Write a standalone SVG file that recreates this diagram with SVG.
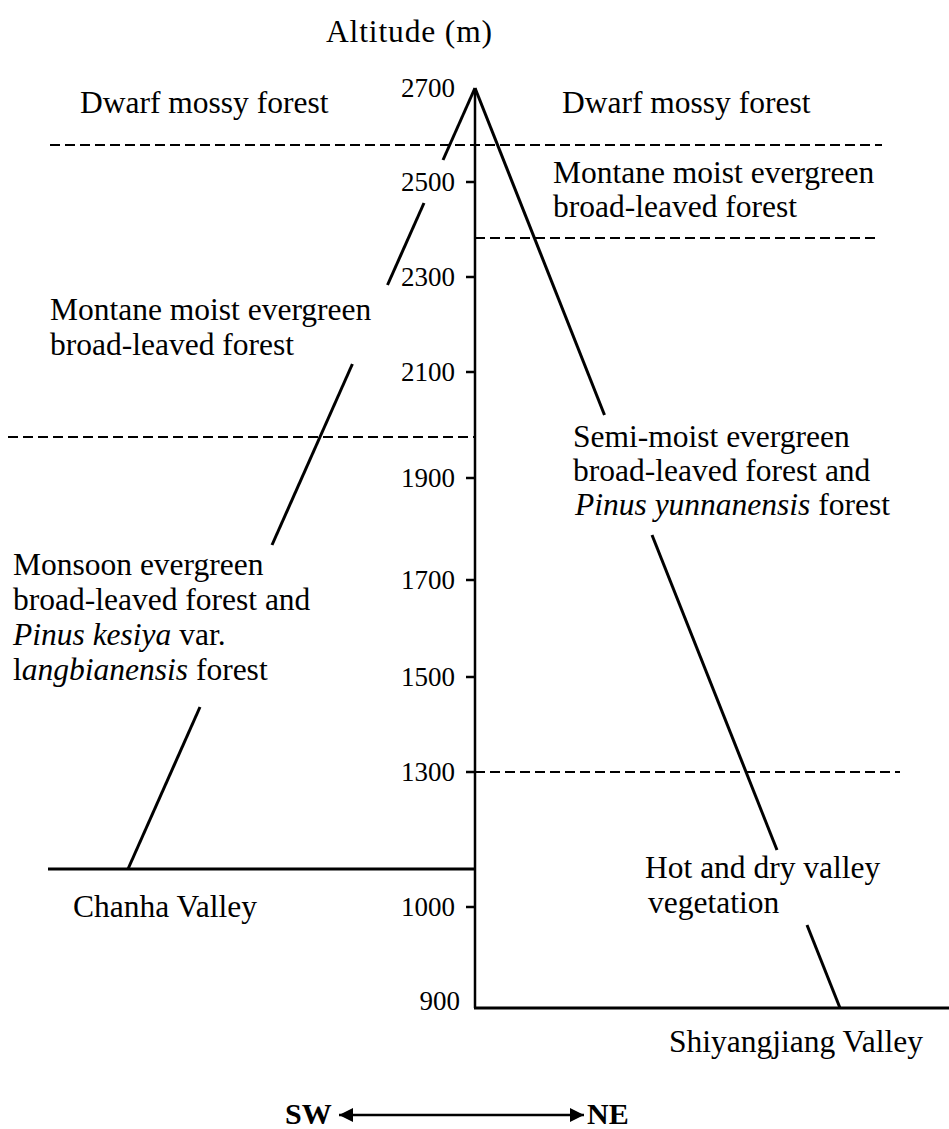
<svg xmlns="http://www.w3.org/2000/svg" width="949" height="1129" viewBox="0 0 949 1129">
<defs>
<style>
.t{font-family:"Liberation Serif","Times New Roman",serif;font-size:31.5px;fill:#000}
.n{font-family:"Liberation Serif","Times New Roman",serif;font-size:27px;fill:#000;text-anchor:end}
.b{font-family:"Liberation Serif","Times New Roman",serif;font-size:30px;font-weight:bold;fill:#000}
.i{font-style:italic}
.ln{stroke:#000;stroke-width:3;fill:none;stroke-linecap:butt}
.ax{stroke:#000;stroke-width:2.5;fill:none}
.ds{stroke:#000;stroke-width:2;stroke-dasharray:10 5;fill:none}
</style>
<marker id="ah" viewBox="0 0 10 10" refX="10" refY="5" markerWidth="8.5" markerHeight="5.6" markerUnits="strokeWidth" orient="auto-start-reverse">
<path d="M0,0 L10,5 L0,10 Z" fill="#000"/>
</marker>
</defs>
<rect width="949" height="1129" fill="#fff"/>

<g id="axis">
<text class="t" x="326" y="42" textLength="166" lengthAdjust="spacing">Altitude (m)</text>
<line class="ax" x1="475" y1="88" x2="475" y2="1008"/>
<line class="ax" x1="466" y1="182" x2="475" y2="182"/>
<line class="ax" x1="466" y1="277" x2="475" y2="277"/>
<line class="ax" x1="466" y1="372" x2="475" y2="372"/>
<line class="ax" x1="466" y1="478" x2="475" y2="478"/>
<line class="ax" x1="466" y1="580" x2="475" y2="580"/>
<line class="ax" x1="466" y1="677" x2="475" y2="677"/>
<line class="ax" x1="466" y1="772" x2="475" y2="772"/>
<line class="ax" x1="466" y1="907" x2="475" y2="907"/>
<text class="n" x="455" y="97">2700</text>
<text class="n" x="455" y="191">2500</text>
<text class="n" x="455" y="286">2300</text>
<text class="n" x="455" y="381">2100</text>
<text class="n" x="455" y="487">1900</text>
<text class="n" x="455" y="589">1700</text>
<text class="n" x="455" y="686">1500</text>
<text class="n" x="455" y="781">1300</text>
<text class="n" x="455" y="916">1000</text>
<text class="n" x="460" y="1010">900</text>
</g>

<g id="boundaries">
<line class="ds" x1="50" y1="145" x2="882" y2="145"/>
<line class="ds" x1="475" y1="238" x2="878" y2="238"/>
<line class="ds" x1="8" y1="437" x2="474" y2="437"/>
<line class="ds" x1="475" y1="772" x2="900" y2="772"/>
</g>

<g id="valleys">
<line class="ln" x1="48" y1="869" x2="475" y2="869"/>
<line class="ln" x1="474" y1="1008" x2="949" y2="1008"/>
<text class="t" x="73" y="917">Chanha Valley</text>
<text class="t" x="669" y="1052">Shiyangjiang Valley</text>
</g>

<g id="sw-slope">
<line class="ln" x1="475" y1="88" x2="443" y2="160"/>
<line class="ln" x1="424" y1="203" x2="387.5" y2="285"/>
<line class="ln" x1="352.4" y1="364" x2="272" y2="545"/>
<line class="ln" x1="200" y1="707" x2="128" y2="869"/>
</g>

<g id="ne-slope">
<line class="ln" x1="475" y1="88" x2="604.5" y2="415"/>
<line class="ln" x1="652" y1="535" x2="777" y2="850"/>
<line class="ln" x1="807" y1="925" x2="840" y2="1008"/>
</g>

<g id="sw-zones">
<text class="t" x="80" y="113">Dwarf mossy forest</text>
<text class="t" x="50" y="320">Montane moist evergreen</text>
<text class="t" x="50" y="355">broad-leaved forest</text>
<text class="t" x="13" y="575">Monsoon evergreen</text>
<text class="t" x="13" y="610">broad-leaved forest and</text>
<text class="t" x="13" y="645"><tspan class="i">Pinus kesiya</tspan> var.</text>
<text class="t" x="13" y="680">l<tspan class="i">angbianensis</tspan> forest</text>
</g>

<g id="ne-zones">
<text class="t" x="562" y="113">Dwarf mossy forest</text>
<text class="t" x="553" y="183">Montane moist evergreen</text>
<text class="t" x="553" y="217">broad-leaved forest</text>
<text class="t" x="573" y="447">Semi-moist evergreen</text>
<text class="t" x="573" y="481">broad-leaved forest and</text>
<text class="t" x="575" y="515"><tspan class="i">Pinus yunnanensis</tspan> forest</text>
<text class="t" x="645" y="878">Hot and dry valley</text>
<text class="t" x="648" y="913">vegetation</text>
</g>

<g id="direction">
<line stroke="#000" stroke-width="2.5" x1="339" y1="1115" x2="584" y2="1115" marker-start="url(#ah)" marker-end="url(#ah)"/>
<text class="b" x="285" y="1124">SW</text>
<text class="b" x="587" y="1124">NE</text>
</g>
</svg>
